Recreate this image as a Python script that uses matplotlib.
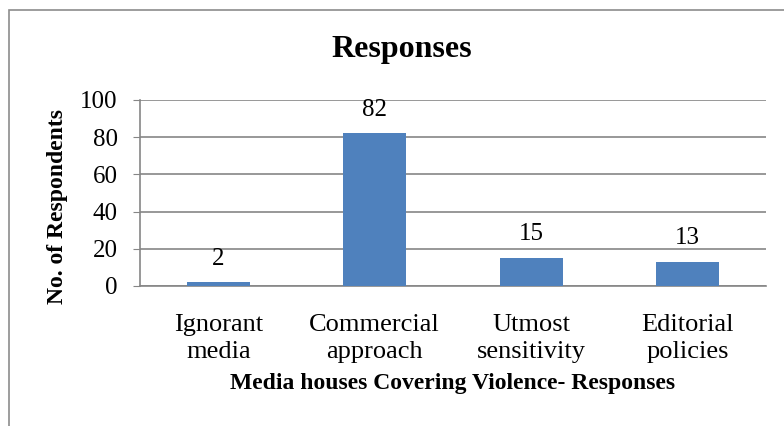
import matplotlib.pyplot as plt
import matplotlib.patches as patches
import numpy as np

categories = ['Ignorant\nmedia', 'Commercial\napproach', 'Utmost\nsensitivity', 'Editorial\npolicies']
responses = [2, 82, 15, 13]
y_ticks = [0, 20, 40, 60, 80, 100]

plt.rcParams['font.family'] = ['Liberation Serif', 'DejaVu Serif']

fig = plt.figure(figsize=(7.84, 4.26), dpi=100)
# outer chart border, runs off the right and bottom edges like the source crop
fig.patches.append(patches.Rectangle((9 / 784, -0.05), 1.2, 1 - 10 / 426 + 0.05,
                                     transform=fig.transFigure, fill=False,
                                     edgecolor='#8c8c8c', linewidth=1.2))

ax = fig.add_axes([140 / 784, 1 - 286 / 426, (766 - 140) / 784, (286 - 100) / 426])
x = np.arange(len(categories))
ax.bar(x, responses, width=0.4, color='#4F81BD', zorder=3)
for xi, v in zip(x, responses):
    ax.annotate(str(v), (xi, v), xytext=(0, 17), textcoords='offset points',
                ha='center', va='center', fontsize=18)

ax.set_xlim(-0.5, len(categories) - 0.5)
ax.set_ylim(0, 100)
ax.set_yticks(y_ticks)
ax.set_yticklabels([str(t) for t in y_ticks], fontsize=18)
ax.set_xticks(x)
ax.set_xticklabels(categories, fontsize=19, linespacing=1.3)
ax.tick_params(axis='x', length=0, pad=20)
ax.tick_params(axis='y', length=5, color='#868686', pad=11)
ax.yaxis.grid(True, color='#868686', linewidth=1.2, zorder=0)
for side in ['top', 'right']:
    ax.spines[side].set_visible(False)
ax.spines['left'].set_color('#868686')
ax.spines['bottom'].set_color('#868686')
ax.spines['left'].set_linewidth(1.2)
ax.spines['bottom'].set_linewidth(1.2)

ax.set_ylabel('No. of Respondents', fontsize=17, fontweight='bold')
ax.yaxis.set_label_coords(-0.115, 0.43)
ax.set_xlabel('Media houses Covering Violence- Responses', fontsize=17, fontweight='bold', labelpad=7)
fig.text(402 / 784, 1 - 49 / 426, 'Responses', ha='center', va='center',
         fontsize=23, fontweight='bold')

fig.savefig('out.png', dpi=100)
